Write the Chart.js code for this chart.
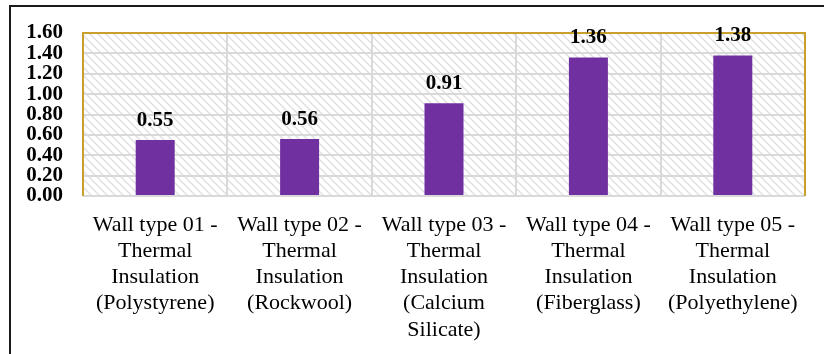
<!DOCTYPE html>
<html>
<head>
<meta charset="utf-8">
<script src="https://cdn.jsdelivr.net/npm/chart.js@4/dist/chart.umd.min.js"></script>
<style>
  html, body { margin: 0; padding: 0; background: #ffffff; overflow: hidden; }
  #wrap { width: 824px; height: 354px; }
</style>
</head>
<body>
<div id="wrap"><canvas id="c" width="824" height="354"></canvas></div>
<script>
// Wall assemblies and their thermal transmittance values
const categories = [
  ["Wall type 01 -", "Thermal", "Insulation", "(Polystyrene)"],
  ["Wall type 02 -", "Thermal", "Insulation", "(Rockwool)"],
  ["Wall type 03 -", "Thermal", "Insulation", "(Calcium", "Silicate)"],
  ["Wall type 04 -", "Thermal", "Insulation", "(Fiberglass)"],
  ["Wall type 05 -", "Thermal", "Insulation", "(Polyethylene)"]
];
const values = [0.55, 0.56, 0.91, 1.36, 1.38];
const yTicks = [0, 0.2, 0.4, 0.6, 0.8, 1.0, 1.2, 1.4, 1.6];

const SERIF = "'Liberation Serif', 'Times New Roman', serif";
const BAR = "#7030A0";
const GOLD = "#C9A02C";
const GRID = "#D9D9D9";

// Light diagonal hatch used as the plot background
function makeHatch() {
  const t = document.createElement("canvas");
  t.width = 8; t.height = 8;
  const g = t.getContext("2d");
  g.fillStyle = "#ffffff";
  g.fillRect(0, 0, 8, 8);
  g.strokeStyle = "#E0E0E0";
  g.lineWidth = 1.5;
  g.beginPath();
  g.moveTo(-2, -2); g.lineTo(10, 10);
  g.moveTo(-10, -2); g.lineTo(2, 10);
  g.moveTo(6, -2); g.lineTo(18, 10);
  g.stroke();
  return t;
}

const plotDecor = {
  id: "plotDecor",
  beforeDraw(chart) {
    const { ctx, chartArea: a } = chart;
    ctx.save();
    ctx.fillStyle = "#ffffff";
    ctx.fillRect(0, 0, chart.width, chart.height);
    ctx.fillStyle = ctx.createPattern(makeHatch(), "repeat");
    ctx.fillRect(a.left, a.top, a.right - a.left, a.bottom - a.top);
    ctx.restore();
  },
  beforeDatasetsDraw(chart) {
    const { ctx, chartArea: a } = chart;
    ctx.save();
    ctx.strokeStyle = GOLD;
    ctx.lineWidth = 2;
    ctx.beginPath();
    ctx.moveTo(a.left, a.bottom);
    ctx.lineTo(a.left, a.top);
    ctx.lineTo(a.right, a.top);
    ctx.lineTo(a.right, a.bottom);
    ctx.stroke();
    ctx.restore();
  },
  afterDatasetsDraw(chart) {
    const { ctx } = chart;
    const meta = chart.getDatasetMeta(0);
    ctx.save();
    ctx.fillStyle = "#000000";
    ctx.font = "bold 21px " + SERIF;
    ctx.textAlign = "center";
    ctx.textBaseline = "alphabetic";
    meta.data.forEach((bar, i) => {
      ctx.fillText(values[i].toFixed(2), bar.x, bar.y - 14);
    });
    ctx.restore();
  },
  afterDraw(chart) {
    const { ctx } = chart;
    ctx.save();
    ctx.fillStyle = "#1a1a1a";
    ctx.fillRect(9, 5, 2, chart.height);
    ctx.fillRect(9, 5, chart.width, 2);
    ctx.restore();
  }
};

new Chart(document.getElementById("c"), {
  type: "bar",
  data: {
    labels: categories,
    datasets: [{
      data: values,
      backgroundColor: BAR,
      borderWidth: 0,
      barPercentage: 0.27,
      categoryPercentage: 1.0
    }]
  },
  options: {
    responsive: false,
    animation: false,
    devicePixelRatio: 1,
    layout: { padding: { top: 33, right: 19, left: 0, bottom: 0 } },
    plugins: { legend: { display: false }, tooltip: { enabled: false } },
    scales: {
      x: {
        grid: { color: GRID, lineWidth: 2, offset: true, drawTicks: false },
        border: { display: false },
        ticks: {
          color: "#000000",
          font: { family: SERIF, size: 22, lineHeight: 1.19 },
          padding: 16,
          maxRotation: 0,
          autoSkip: false
        },
        afterFit(scale) { scale.height = 354 - 196; }
      },
      y: {
        min: 0,
        max: 1.6,
        afterBuildTicks(scale) { scale.ticks = yTicks.map(v => ({ value: v })); },
        grid: { color: GRID, lineWidth: 2, drawTicks: false },
        border: { display: false },
        ticks: {
          color: "#000000",
          font: { family: SERIF, size: 21, weight: "bold", lineHeight: 1 },
          padding: 20,
          autoSkip: false,
          callback: v => Number(v).toFixed(2)
        },
        afterFit(scale) { scale.width = 83; }
      }
    }
  },
  plugins: [plotDecor]
});
</script>
</body>
</html>
